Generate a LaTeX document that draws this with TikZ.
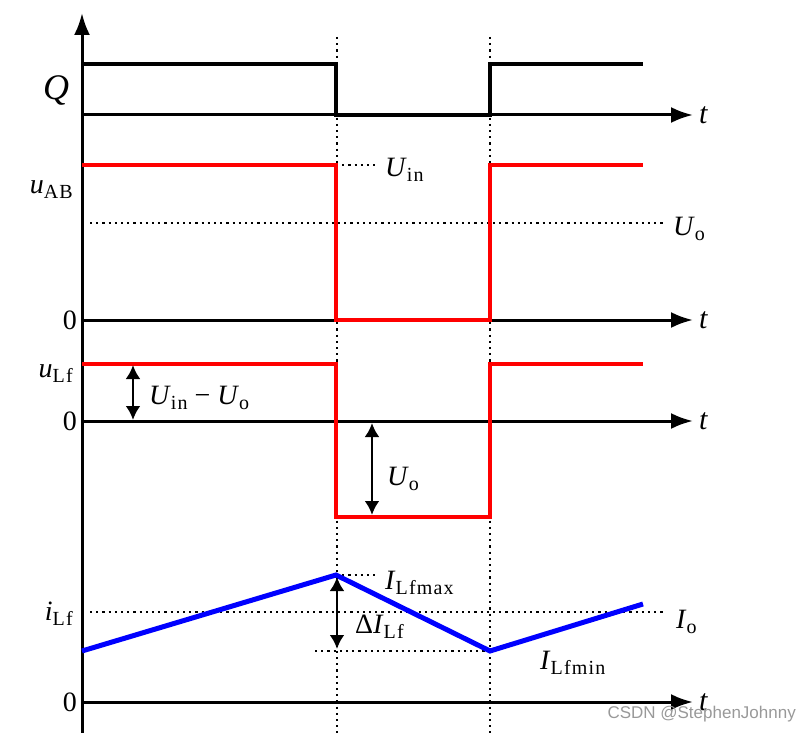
\documentclass[tikz,border=0pt]{standalone}
\usepackage{fontspec}
\setmainfont{Liberation Serif}
\newfontfamily\subfont[LetterSpace=6]{Liberation Serif}
\newfontfamily\wmfont{Liberation Sans}
\usetikzlibrary{arrows.meta}
\newcommand{\sbs}[1]{\raisebox{-5pt}{\subfont\fontsize{20}{22}\selectfont #1}}
\begin{document}
\begin{tikzpicture}[x=1pt,y=-1pt,
  axis/.style={line width=3pt,-{Latex[length=22pt,width=16pt]}},
  dotline/.style={line width=2.4pt,dash pattern=on 2.2pt off 4pt},
  qwave/.style={line width=3.8pt,line join=miter},
  rwave/.style={line width=4.5pt,red,line join=miter},
  bwave/.style={line width=5pt,blue,line join=miter},
  dim/.style={line width=2.8pt,{Latex[length=14pt,width=15pt]}-{Latex[length=14pt,width=15pt]}},
  lbl/.style={font=\fontsize{28}{32}\selectfont,inner sep=0pt},
  bigl/.style={font=\fontsize{36}{40}\selectfont\itshape,inner sep=0pt},
  tl/.style={font=\fontsize{30}{32}\selectfont\itshape,inner sep=0pt,anchor=west},
  wm/.style={font=\wmfont\fontsize{17}{19}\selectfont,text=black!40,inner sep=0pt}]
\useasboundingbox (0,0) rectangle (811,733);
% vertical dotted guides
\coordinate (d1t) at (337,37); \coordinate (d1b) at (337,733);
\coordinate (d2t) at (490,37); \coordinate (d2b) at (490,733);
\draw[dotline] (d1t) -- (d1b);
\draw[dotline] (d2t) -- (d2b);
% vertical axis
\coordinate (yb) at (82,733); \coordinate (yt) at (82,13);
\draw[axis] (yb) -- (yt);
% horizontal axes
\foreach \yy/\nm in {115/a,320/b,421/c,702/d}{
  \coordinate (s\nm) at (82,\yy); \coordinate (e\nm) at (693,\yy);
  \draw[axis] (s\nm) -- (e\nm);
  \node[tl] (t\nm) at (699,\yy) {t};
}
% Q waveform
\coordinate (q0) at (82,64); \coordinate (q1) at (336,64); \coordinate (q2) at (336,115);
\coordinate (q3) at (490,115); \coordinate (q4) at (490,64); \coordinate (q5) at (643,64);
\draw[qwave] (q0) -- (q1) -- (q2) -- (q3) -- (q4) -- (q5);
\node[bigl] (Q) at (56,91) {Q};
% uAB
\coordinate (uoa) at (90,223); \coordinate (uob) at (666,223);
\draw[dotline] (uoa) -- (uob);
\coordinate (uin) at (376,165);
\coordinate (a0) at (82,165); \coordinate (a1) at (336,165); \coordinate (a2) at (336,320);
\coordinate (a3) at (490,320); \coordinate (a4) at (490,165); \coordinate (a5) at (643,165);
\draw[dotline] (a1) -- (uin);
\draw[rwave] (a0) -- (a1) -- (a2) -- (a3) -- (a4) -- (a5);
\node[lbl,anchor=east] (uAB) at (73,190) {\textit{u}\sbs{AB}};
\node[lbl,anchor=east] (z1) at (77,320) {0};
\node[lbl,anchor=west] (Uin) at (385,170) {\textit{U}\sbs{in}};
\node[lbl,anchor=west] (Uo1) at (673,229) {\textit{U}\sbs{o}};
% uLf
\coordinate (b0) at (82,364); \coordinate (b1) at (336,364); \coordinate (b2) at (336,517);
\coordinate (b3) at (490,517); \coordinate (b4) at (490,364); \coordinate (b5) at (643,364);
\draw[rwave] (b0) -- (b1) -- (b2) -- (b3) -- (b4) -- (b5);
\node[lbl,anchor=east] (uLf) at (73,374) {\textit{u}\sbs{Lf}};
\node[lbl,anchor=east] (z2) at (77,421) {0};
\coordinate (da1) at (133,365); \coordinate (da2) at (133,420);
\draw[dim] (da1) -- (da2);
\node[lbl,anchor=west] (UinUo) at (149,398) {\textit{U}\sbs{in} − \textit{U}\sbs{o}};
\coordinate (db1) at (372,423); \coordinate (db2) at (372,515);
\draw[dim] (db1) -- (db2);
\node[lbl,anchor=west] (Uo2) at (387,479) {\textit{U}\sbs{o}};
% iLf
\coordinate (ioa) at (90,612); \coordinate (iob) at (666,612);
\draw[dotline] (ioa) -- (iob);
\coordinate (c0) at (82,651); \coordinate (c1) at (336,575); \coordinate (c2) at (490,651); \coordinate (c3) at (643,604);
\coordinate (mx) at (378,575); \coordinate (mn) at (315,651);
\draw[dotline] (c1) -- (mx);
\draw[dotline] (mn) -- (c2);
\draw[bwave] (c0) -- (c1) -- (c2) -- (c3);
\coordinate (dc1) at (337,577); \coordinate (dc2) at (337,649);
\draw[dim] (dc1) -- (dc2);
\node[lbl,anchor=east] (iLf) at (73,614) {\textit{i}\sbs{Lf}};
\node[lbl,anchor=east] (z3) at (77,702) {0};
\node[lbl,anchor=west] (Imax) at (385,583) {\textit{I}\sbs{Lfmax}};
\node[lbl,anchor=west] (dI) at (355,627) {Δ\textit{I}\sbs{Lf}};
\node[lbl,anchor=west] (Imin) at (540,663) {\textit{I}\sbs{Lfmin}};
\node[lbl,anchor=west] (Io) at (676,622) {\textit{I}\sbs{o}};
% watermark
\node[wm,anchor=east] (wmk) at (796,714) {CSDN @StephenJohnny};
\end{tikzpicture}
\end{document}
